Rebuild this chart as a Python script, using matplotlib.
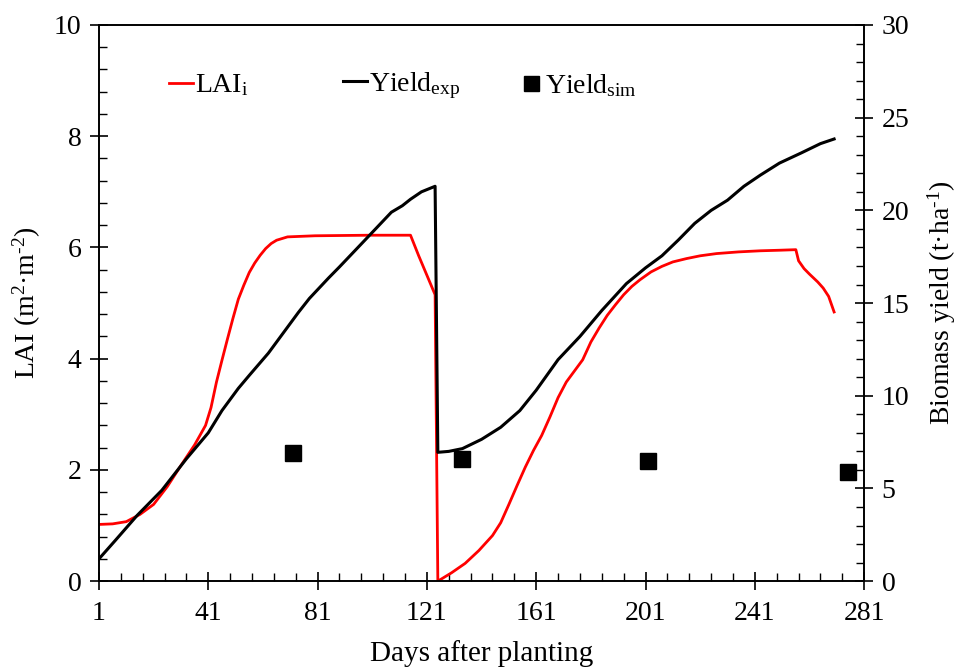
import matplotlib
matplotlib.use("Agg")
import matplotlib.pyplot as plt
from matplotlib.ticker import MultipleLocator, FixedLocator

plt.rcParams["font.family"] = ["Liberation Serif", "DejaVu Serif"]
plt.rcParams["mathtext.fontset"] = "custom"
plt.rcParams["mathtext.rm"] = "Liberation Serif"
plt.rcParams["mathtext.it"] = "Liberation Serif:italic"

# leaf area index (m2/m2) over two cropping cycles
lai_days = [1, 6, 11, 16, 21, 26, 31, 36, 40, 42, 44, 46, 48, 50, 52, 54, 56,
            58, 60, 62, 64, 66, 70, 80, 100, 115, 118, 121, 124, 125, 130, 135,
            140, 145, 148, 151, 154, 157, 160, 163, 166, 169, 172, 175, 178,
            181, 184, 187, 190, 193, 196, 199, 203, 207, 211, 216, 221, 227,
            235, 243, 250, 256, 257, 259, 261, 264, 266, 268, 270]
lai_vals = [1.02, 1.03, 1.07, 1.20, 1.38, 1.70, 2.08, 2.45, 2.80, 3.12, 3.58,
            3.97, 4.35, 4.72, 5.07, 5.32, 5.55, 5.72, 5.86, 5.98, 6.07, 6.13,
            6.19, 6.21, 6.22, 6.22, 5.85, 5.50, 5.15, 0.00, 0.15, 0.32, 0.55,
            0.82, 1.05, 1.38, 1.72, 2.05, 2.35, 2.62, 2.95, 3.30, 3.58, 3.78,
            3.98, 4.30, 4.55, 4.78, 4.97, 5.15, 5.30, 5.42, 5.56, 5.66, 5.74,
            5.80, 5.85, 5.89, 5.92, 5.94, 5.95, 5.96, 5.76, 5.62, 5.52, 5.38,
            5.27, 5.12, 4.84]

# measured biomass yield (t/ha)
exp_days = [1, 7, 15, 24, 33, 41, 46, 52, 56, 63, 68, 74, 78, 85, 89, 99, 108,
            112, 115, 119, 124, 125, 129, 134, 141, 148, 155, 161, 169, 177,
            185, 194, 201, 207, 213, 219, 225, 231, 237, 243, 250, 258, 265, 270]
exp_vals = [1.2, 2.2, 3.55, 4.9, 6.6, 8.0, 9.2, 10.4, 11.1, 12.3, 13.3, 14.5,
            15.25, 16.35, 16.95, 18.5, 19.9, 20.25, 20.6, 21.0, 21.3, 6.95,
            7.0, 7.15, 7.65, 8.3, 9.2, 10.3, 11.95, 13.2, 14.6, 16.05, 16.9,
            17.55, 18.4, 19.3, 20.0, 20.55, 21.3, 21.9, 22.55, 23.1, 23.6, 23.85]

# simulated biomass yield (t/ha)
sim_days = [72, 134, 202, 275]
sim_vals = [6.9, 6.6, 6.5, 5.9]

fig = plt.figure(figsize=(9.57, 6.68), dpi=100)
ax = fig.add_axes([0.1034, 0.130, 0.7996, 0.8326])
ax2 = ax.twinx()

l1, = ax.plot(lai_days, lai_vals, color="red", lw=2.0, label=r"LAI$_\mathregular{i}$")
l2, = ax2.plot(exp_days, exp_vals, color="black", lw=2.2, label=r"Yield$_\mathregular{exp}$")
l3, = ax2.plot(sim_days, sim_vals, ls="none", marker="s", ms=12, color="black",
               label=r"Yield$_\mathregular{sim}$")

ax.set_xlim(1, 281)
ax.set_ylim(0, 10)
ax2.set_ylim(0, 30)

ax.xaxis.set_major_locator(FixedLocator(range(1, 282, 40)))
ax.xaxis.set_minor_locator(FixedLocator(range(1, 282, 8)))
ax.yaxis.set_major_locator(MultipleLocator(2))
ax.yaxis.set_minor_locator(MultipleLocator(0.4))
ax2.yaxis.set_major_locator(MultipleLocator(5))
ax2.yaxis.set_minor_locator(MultipleLocator(1))

fs = 20
ax.tick_params(axis="x", which="major", direction="inout", length=13, width=1.2, labelsize=fs, pad=8)
ax.tick_params(axis="x", which="minor", direction="in", length=6, width=1.0)
ax.tick_params(axis="y", which="major", direction="inout", length=13, width=1.2, labelsize=fs, pad=6)
ax.tick_params(axis="y", which="minor", direction="in", length=6, width=1.0)
ax2.tick_params(axis="y", which="major", direction="inout", length=13, width=1.2, labelsize=fs, pad=6)
ax2.tick_params(axis="y", which="minor", direction="in", length=6, width=1.0)

for a in (ax, ax2):
    for s in a.spines.values():
        s.set_linewidth(1.2)

ax.set_xlabel("Days after planting", fontsize=21, labelpad=10)
ax.set_ylabel(r"LAI (m$^\mathregular{2}$·m$^\mathregular{\text{-}2}$)", fontsize=fs, labelpad=8)
ax2.set_ylabel(r"Biomass yield (t·ha$^\mathregular{\text{-}1}$)", fontsize=fs, labelpad=12)

# one legend per entry so each can sit where it belongs
leg_x = [169 / 957, 343 / 957, 519 / 957]
for h, x0 in zip([l1, l2, l3], leg_x):
    leg = fig.legend(handles=[h], loc="center left", bbox_to_anchor=(x0, 0.872),
                     bbox_transform=fig.transFigure, frameon=False, fontsize=fs,
                     handlelength=0.85, handletextpad=0.1, borderpad=0,
                     borderaxespad=0, markerscale=0.9)

fig.savefig("out.png", dpi=100)
